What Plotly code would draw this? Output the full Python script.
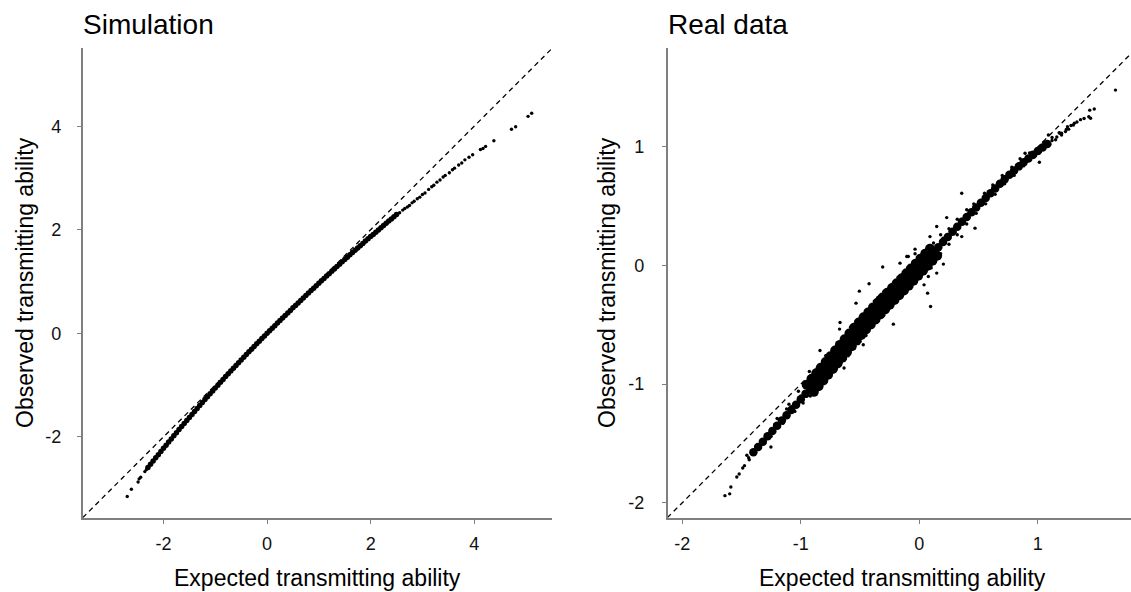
import plotly.graph_objects as go

# ---------------- data: Simulation panel ----------------
sim_curve_x = [-2.30, -2.25, -2.20, -2.15, -2.10, -2.05, -2.00, -1.95, -1.90, -1.85,
               -1.80, -1.75, -1.70, -1.65, -1.60, -1.55, -1.50, -1.45, -1.40, -1.35,
               -1.30, -1.25, -1.20, -1.15, -1.10, -1.05, -1.00, -0.95, -0.90, -0.85,
               -0.80, -0.75, -0.70, -0.65, -0.60, -0.55, -0.50, -0.45, -0.40, -0.35,
               -0.30, -0.25, -0.20, -0.15, -0.10, -0.05, 0.00, 0.05, 0.10, 0.15,
               0.20, 0.25, 0.30, 0.35, 0.40, 0.45, 0.50, 0.55, 0.60, 0.65,
               0.70, 0.75, 0.80, 0.85, 0.90, 0.95, 1.00, 1.05, 1.10, 1.15,
               1.20, 1.25, 1.30, 1.35, 1.40, 1.45, 1.50, 1.55, 1.60, 1.65,
               1.70, 1.75, 1.80, 1.85, 1.90, 1.95, 2.00, 2.05, 2.10, 2.15,
               2.20, 2.25, 2.30, 2.35, 2.40, 2.45, 2.50]
sim_curve_y = [-2.591, -2.528, -2.466, -2.404, -2.343, -2.281, -2.220, -2.159, -2.099, -2.038,
               -1.978, -1.918, -1.859, -1.800, -1.741, -1.682, -1.624, -1.566, -1.508, -1.450,
               -1.393, -1.336, -1.279, -1.223, -1.167, -1.111, -1.055, -1.000, -0.945, -0.890,
               -0.835, -0.781, -0.727, -0.673, -0.620, -0.567, -0.514, -0.461, -0.409, -0.357,
               -0.305, -0.253, -0.202, -0.151, -0.101, -0.050, 0.000, 0.050, 0.100, 0.149,
               0.199, 0.248, 0.297, 0.346, 0.395, 0.443, 0.492, 0.540, 0.588, 0.636,
               0.684, 0.731, 0.779, 0.826, 0.873, 0.920, 0.967, 1.014, 1.060, 1.106,
               1.152, 1.198, 1.244, 1.290, 1.335, 1.381, 1.426, 1.471, 1.516, 1.560,
               1.605, 1.649, 1.693, 1.737, 1.781, 1.825, 1.868, 1.911, 1.954, 1.997,
               2.040, 2.083, 2.125, 2.168, 2.210, 2.252, 2.294]
sim_tail_x = [2.56, 2.62, 2.66, 2.71, 2.75, 2.80, 2.84, 2.90, 2.95, 3.00,
              3.05, 3.12, 3.18, 3.22, 3.28, 3.34, 3.40, 3.44, 3.52, 3.58,
              3.62, 3.70, 3.76, 3.82, 3.90, 3.97, 4.12, 4.17, 4.22, 4.38,
              4.72, 4.80, 5.04, 5.11,
              -2.33, -2.36, -2.44, -2.47, -2.49, -2.62, -2.70]
sim_tail_y = [2.33, 2.38, 2.41, 2.44, 2.47, 2.52, 2.55, 2.60, 2.63, 2.68,
              2.71, 2.78, 2.83, 2.86, 2.92, 2.96, 3.02, 3.05, 3.10, 3.16,
              3.19, 3.25, 3.29, 3.35, 3.40, 3.45, 3.55, 3.57, 3.61, 3.72,
              3.94, 3.99, 4.19, 4.25,
              -2.63, -2.67, -2.78, -2.81, -2.87, -3.01, -3.15]

# ---------------- data: Real data panel ----------------
# centre of the dense band
real_core_x = [-1.40, -1.36, -1.32, -1.28, -1.24, -1.20, -1.16, -1.12, -1.08,
               -1.04, -1.00, -0.96, -0.92, -0.88, -0.84, -0.80, -0.76, -0.72, -0.68,
               -0.64, -0.60, -0.56, -0.52, -0.48, -0.44, -0.40, -0.36, -0.32, -0.28,
               -0.24, -0.20, -0.16, -0.12, -0.08, -0.04, 0.00, 0.04, 0.08, 0.12,
               0.16, 0.20, 0.24, 0.28, 0.32, 0.36, 0.40, 0.44, 0.48, 0.52,
               0.56, 0.60, 0.64, 0.68, 0.72, 0.76, 0.80, 0.84, 0.88, 0.92,
               0.96, 1.00, 1.04, 1.08]
real_core_y = [-1.575, -1.530, -1.485, -1.440, -1.395, -1.350, -1.306, -1.262, -1.218,
               -1.173, -1.128, -1.082, -1.035, -0.987, -0.939, -0.891, -0.843, -0.795, -0.747,
               -0.699, -0.651, -0.603, -0.555, -0.510, -0.467, -0.425, -0.383, -0.341, -0.300,
               -0.260, -0.220, -0.180, -0.140, -0.098, -0.056, -0.014, 0.028, 0.070, 0.112,
               0.155, 0.198, 0.241, 0.284, 0.327, 0.369, 0.410, 0.450, 0.490, 0.530,
               0.570, 0.610, 0.650, 0.690, 0.728, 0.765, 0.801, 0.836, 0.870, 0.903,
               0.935, 0.966, 0.996, 1.025]
# wide middle part of the band (both edges of the dense core)
real_wide_x = [-0.95, -0.91, -0.87, -0.83, -0.79, -0.75, -0.71, -0.67,
               -0.63, -0.59, -0.55, -0.51, -0.47, -0.43, -0.39, -0.35, -0.31, -0.27,
               -0.23, -0.19, -0.15, -0.11, -0.07, -0.03, 0.01, 0.05, 0.09,
               -0.89, -0.85, -0.81, -0.77, -0.73, -0.69, -0.65, -0.61,
               -0.57, -0.53, -0.49, -0.45, -0.41, -0.37, -0.33, -0.29, -0.25, -0.21,
               -0.17, -0.13, -0.09, -0.05, -0.01, 0.03, 0.07, 0.11, 0.15]
real_wide_y = [-1.005, -0.957, -0.909, -0.861, -0.813, -0.765, -0.717, -0.669,
               -0.621, -0.573, -0.525, -0.480, -0.437, -0.395, -0.353, -0.311, -0.270, -0.230,
               -0.190, -0.150, -0.110, -0.068, -0.026, 0.016, 0.058, 0.100, 0.142,
               -1.065, -1.017, -0.969, -0.921, -0.873, -0.825, -0.777, -0.729,
               -0.681, -0.633, -0.585, -0.540, -0.497, -0.455, -0.413, -0.371, -0.330, -0.290,
               -0.250, -0.210, -0.170, -0.128, -0.086, -0.044, -0.002, 0.040, 0.082]
# scattered individual points
real_fringe_x = [-1.64, -1.60, -1.59, -1.54, -1.52, -1.49, -1.475, -1.435, -1.252, -1.44, -1.455,
                 -0.309, -0.424, -0.506, -0.534, -0.669, -0.673, -0.838, -0.928, -0.163, -0.106,
                 -0.036, 0.358, 0.231, 0.147, 0.09, -0.036, -0.093, -0.219, -0.635, -0.473,
                 0.47, 0.358, 0.203, 0.147, 0.076, 0.07, 0.095, 0.04,
                 1.12, 1.16, 1.20, 1.24, 1.28, 1.046, 1.089, 1.187, 1.30, 1.308,
                 1.233, 1.438, 1.476, 1.43, 1.445, 1.655, 0.892, 1.013, 0.957, 1.05,
                 1.12, 1.18, 1.25, 1.33, 1.36, 1.39,
                 -1.20, -1.10, -1.02, -0.95, -0.90, -0.86, -0.80, -0.76, -0.72, -0.70,
                 -0.62, -0.60, -0.55, -0.50, -0.46, -0.42, -0.38, -0.35, -0.30, -0.26,
                 -0.22, -0.18, -0.15, -0.10, -0.05, 0.00, 0.05, 0.12, 0.18, 0.25,
                 0.32, 0.40, 0.46, 0.55, 0.62, 0.70, 0.78, 0.85, 0.93,
                 -1.25, -1.15, -1.05, -0.98, -0.92, -0.86, -0.80, -0.75, -0.70, -0.66,
                 -0.60, -0.55, -0.50, -0.45, -0.40, -0.36, -0.30, -0.26, -0.20, -0.15,
                 -0.10, -0.05, 0.00, 0.06, 0.12, 0.18, 0.25, 0.32, 0.40, 0.48,
                 0.56, 0.64, 0.72, 0.80, 0.88, 0.96, 1.02, 1.10, 1.15, 1.20, 1.26,
                 -0.58, -0.52, -0.44, -0.33, -0.27, -0.12, -0.79, -0.68, -0.40, -0.20,
                 0.02, 0.10, -0.88, -0.62, -0.31,
                 -1.30, -1.18, -1.08, -1.00, -1.12, -1.22, 0.20, 0.28, 0.36, 0.30, 0.22, 0.14]
real_fringe_y = [-1.94, -1.925, -1.867, -1.783, -1.757, -1.707, -1.687, -1.637, -1.530, -1.62, -1.60,
                 -0.013, -0.154, -0.216, -0.317, -0.48, -0.536, -0.716, -0.893, 0.02, 0.076,
                 0.099, 0.61, 0.404, 0.329, 0.244, 0.138, 0.076, -0.494, -0.864, -0.668,
                 0.315, 0.244, 0.012, -0.064, -0.093, -0.233, -0.345, -0.163,
                 1.054, 1.084, 1.115, 1.147, 1.180, 1.017, 1.101, 1.115, 1.185, 1.20,
                 1.129, 1.310, 1.32, 1.255, 1.242, 1.479, 0.947, 0.871, 0.952, 1.04,
                 1.08, 1.12, 1.17, 1.21, 1.23, 1.24,
                 -1.29, -1.17, -1.06, -0.98, -0.93, -0.86, -0.82, -0.76, -0.73, -0.68,
                 -0.62, -0.58, -0.50, -0.45, -0.42, -0.36, -0.30, -0.27, -0.22, -0.20,
                 -0.15, -0.10, -0.08, -0.02, 0.03, 0.07, 0.12, 0.19, 0.26, 0.31,
                 0.39, 0.47, 0.52, 0.61, 0.68, 0.76, 0.83, 0.90, 0.95,
                 -1.44, -1.33, -1.23, -1.16, -1.10, -1.04, -0.97, -0.93, -0.87, -0.82,
                 -0.76, -0.70, -0.64, -0.59, -0.52, -0.48, -0.42, -0.37, -0.31, -0.26,
                 -0.20, -0.14, -0.09, -0.04, 0.03, 0.10, 0.18, 0.26, 0.35, 0.44,
                 0.52, 0.60, 0.69, 0.76, 0.84, 0.91, 0.96, 1.02, 1.06, 1.10, 1.15,
                 -0.52, -0.47, -0.37, -0.26, -0.21, -0.04, -0.76, -0.76, -0.50, -0.30,
                 0.09, -0.02, -0.90, -0.70, -0.38,
                 -1.48, -1.34, -1.19, -1.10, -1.21, -1.34, 0.23, 0.30, 0.39, 0.28, 0.19, 0.11]

sim_ticks = [-2, 0, 2, 4]
sim_ticktext = ["-2", "0", "2", "4"]
real_ticks = [-2, -1, 0, 1]
real_ticktext = ["-2", "-1", "0", "1"]
sim_range = [-3.56, 5.51]
real_xrange = [-2.123, 1.786]
real_yrange = [-2.126, 1.834]

panel_titles = ["Simulation", "Real data"]
x_title = "Expected transmitting ability"
y_title = "Observed transmitting ability"

# ---------------- figure ----------------
W, H = 1131, 592
FONT = "Liberation Sans, Arial, Helvetica, sans-serif"

def px(v):
    return v / W

def py(v):
    return 1 - v / H

fig = go.Figure()

# reference lines y = x (dashed)
fig.add_trace(go.Scatter(x=sim_range, y=sim_range, mode="lines",
                         line=dict(color="black", width=1.3, dash="5px,4px"),
                         xaxis="x", yaxis="y", hoverinfo="skip"))
fig.add_trace(go.Scatter(x=real_yrange, y=real_yrange, mode="lines",
                         line=dict(color="black", width=1.3, dash="5px,4px"),
                         xaxis="x2", yaxis="y2", hoverinfo="skip"))

# simulation points
fig.add_trace(go.Scatter(x=sim_curve_x, y=sim_curve_y, mode="markers",
                         marker=dict(color="black", size=5.5, line=dict(width=0)),
                         xaxis="x", yaxis="y"))
fig.add_trace(go.Scatter(x=sim_tail_x, y=sim_tail_y, mode="markers",
                         marker=dict(color="black", size=3.4, line=dict(width=0)),
                         xaxis="x", yaxis="y"))

# real data points
fig.add_trace(go.Scatter(x=real_core_x, y=real_core_y, mode="markers",
                         marker=dict(color="black", size=8.5, line=dict(width=0)),
                         xaxis="x2", yaxis="y2"))
fig.add_trace(go.Scatter(x=real_wide_x, y=real_wide_y, mode="markers",
                         marker=dict(color="black", size=10, line=dict(width=0)),
                         xaxis="x2", yaxis="y2"))
fig.add_trace(go.Scatter(x=real_fringe_x, y=real_fringe_y, mode="markers",
                         marker=dict(color="black", size=3.4, line=dict(width=0)),
                         xaxis="x2", yaxis="y2"))

axis_style = dict(showline=True, linecolor="#7f7f7f", linewidth=1.6,
                  ticks="outside", ticklen=4, tickwidth=1.4, tickcolor="#7f7f7f",
                  showgrid=False, zeroline=False,
                  tickfont=dict(family=FONT, size=18, color="#111111"))

y_dom = [py(517.7), py(48)]
fig.update_layout(
    width=W, height=H, autosize=False,
    margin=dict(l=0, r=0, t=0, b=0, pad=0),
    paper_bgcolor="white", plot_bgcolor="white",
    showlegend=False,
    xaxis=dict(domain=[px(82.7), px(552.4)], range=sim_range, tickvals=sim_ticks,
               ticktext=sim_ticktext, anchor="y", ticklabelstandoff=5, **axis_style),
    yaxis=dict(domain=y_dom, range=sim_range, tickvals=sim_ticks,
               ticktext=sim_ticktext, anchor="x", ticklabelstandoff=12, **axis_style),
    xaxis2=dict(domain=[px(667.7), 1.0], range=real_xrange, tickvals=real_ticks,
                ticktext=real_ticktext, anchor="y2", ticklabelstandoff=5, **axis_style),
    yaxis2=dict(domain=y_dom, range=real_yrange, tickvals=real_ticks,
                ticktext=real_ticktext, anchor="x2", ticklabelstandoff=14, **axis_style),
)

ann = []
ann.append(dict(text=panel_titles[0], x=px(80.5), y=py(25), xanchor="left", yanchor="middle"))
ann.append(dict(text=panel_titles[1], x=px(665.5), y=py(25), xanchor="left", yanchor="middle"))
for a in ann:
    a.update(xref="paper", yref="paper", showarrow=False,
             font=dict(family=FONT, size=28, color="black"))
axis_ann = [
    dict(text=x_title, x=px(317.5), y=py(578), xanchor="center", yanchor="middle"),
    dict(text=x_title, x=px(902.6), y=py(578), xanchor="center", yanchor="middle"),
    dict(text=y_title, x=px(25), y=py(283), xanchor="center", yanchor="middle", textangle=-90),
    dict(text=y_title, x=px(607), y=py(283), xanchor="center", yanchor="middle", textangle=-90),
]
for a in axis_ann:
    a.update(xref="paper", yref="paper", showarrow=False,
             font=dict(family=FONT, size=23, color="black"))
fig.update_layout(annotations=ann + axis_ann)

fig.write_html("out.html")
